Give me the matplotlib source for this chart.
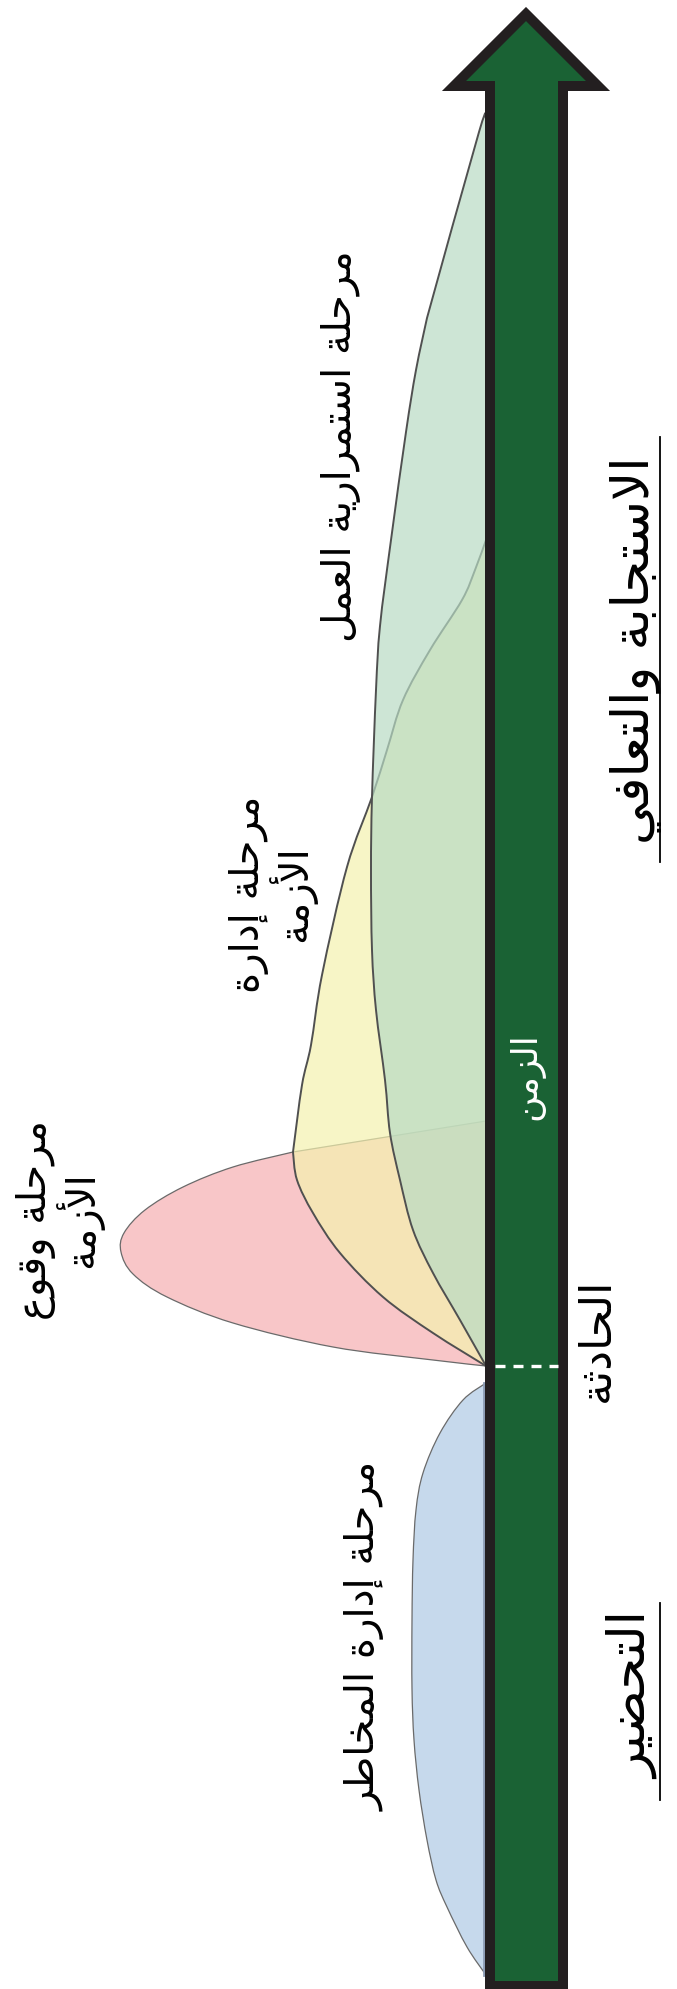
import matplotlib
matplotlib.use("Agg")
import numpy as np
import matplotlib.pyplot as plt
from matplotlib.patches import Polygon, PathPatch
from matplotlib.path import Path

plt.rcParams['font.family'] = ['DejaVu Sans']

# حدود المراحل (x, y بالبكسل، y نحو الأسفل)
continuity_x = [486, 479, 427, 416, 406, 391, 380, 376, 372, 371, 372, 376, 385, 390, 400, 413, 433, 460, 486]
continuity_y = [117, 132, 318, 370, 432, 540, 626, 690, 797, 870, 950, 1010, 1080, 1133, 1180, 1230, 1273, 1320, 1366]
continuity_corners = [0, 2, 18]

crisis_mgmt_x = [486, 475, 462, 430, 403, 387, 372, 347, 322, 311, 302, 293, 297, 313, 340, 383, 433, 486]
crisis_mgmt_y = [540, 570, 600, 650, 700, 750, 797, 867, 975, 1045, 1085, 1152, 1180, 1213, 1253, 1297, 1333, 1366]
crisis_mgmt_corners = [0, 11, 17]

incident_x = [486, 293, 233, 183, 145, 124, 121, 133, 167, 233, 333, 433, 486]
incident_y = [1121, 1152, 1167, 1187, 1210, 1233, 1252, 1274, 1297, 1323, 1347, 1360, 1366]
incident_corners = [0, 1, 12]

risk_x = [486, 463, 440, 423, 416, 413, 412, 412, 414, 419, 427, 436, 447, 467, 486]
risk_y = [1383, 1400, 1433, 1473, 1510, 1560, 1620, 1689, 1740, 1790, 1840, 1880, 1907, 1947, 1975]
risk_corners = [0, 14]

# سهم الزمن
arrow_x = [490, 490, 454, 526, 598, 563, 563]
arrow_y = [1986, 86, 86, 14, 86, 86, 1986]
incident_time = 1366

# النصوص
labels = ["مرحلة استمرارية العمل", "مرحلة إدارة\nالأزمة", "مرحلة وقوع\nالأزمة",
          "مرحلة إدارة المخاطر", "الحادثة"]
labels_pos = [(341, 446), (273, 894), (60, 1220), (366, 1636), (596, 1340)]
labels_size = [29, 29, 29, 29, 32]
time_label = "الزمن"
big_labels = ["الاستجابة والتعافي", "التحضير"]
big_pos = [(636, 650), (633, 1696)]
big_span = [(437, 862), (1603, 1800)]

# ---- تشكيل الحروف العربية (matplotlib لا يقوم بذلك) ----
FORMS = {
    'ا': (0xFE8D, 0xFE8E, None, None), 'أ': (0xFE83, 0xFE84, None, None),
    'إ': (0xFE87, 0xFE88, None, None), 'ب': (0xFE8F, 0xFE90, 0xFE91, 0xFE92),
    'ة': (0xFE93, 0xFE94, None, None), 'ت': (0xFE95, 0xFE96, 0xFE97, 0xFE98),
    'ث': (0xFE99, 0xFE9A, 0xFE9B, 0xFE9C), 'ج': (0xFE9D, 0xFE9E, 0xFE9F, 0xFEA0),
    'ح': (0xFEA1, 0xFEA2, 0xFEA3, 0xFEA4), 'خ': (0xFEA5, 0xFEA6, 0xFEA7, 0xFEA8),
    'د': (0xFEA9, 0xFEAA, None, None), 'ذ': (0xFEAB, 0xFEAC, None, None),
    'ر': (0xFEAD, 0xFEAE, None, None), 'ز': (0xFEAF, 0xFEB0, None, None),
    'س': (0xFEB1, 0xFEB2, 0xFEB3, 0xFEB4), 'ش': (0xFEB5, 0xFEB6, 0xFEB7, 0xFEB8),
    'ص': (0xFEB9, 0xFEBA, 0xFEBB, 0xFEBC), 'ض': (0xFEBD, 0xFEBE, 0xFEBF, 0xFEC0),
    'ط': (0xFEC1, 0xFEC2, 0xFEC3, 0xFEC4), 'ظ': (0xFEC5, 0xFEC6, 0xFEC7, 0xFEC8),
    'ع': (0xFEC9, 0xFECA, 0xFECB, 0xFECC), 'غ': (0xFECD, 0xFECE, 0xFECF, 0xFED0),
    'ف': (0xFED1, 0xFED2, 0xFED3, 0xFED4), 'ق': (0xFED5, 0xFED6, 0xFED7, 0xFED8),
    'ك': (0xFED9, 0xFEDA, 0xFEDB, 0xFEDC), 'ل': (0xFEDD, 0xFEDE, 0xFEDF, 0xFEE0),
    'م': (0xFEE1, 0xFEE2, 0xFEE3, 0xFEE4), 'ن': (0xFEE5, 0xFEE6, 0xFEE7, 0xFEE8),
    'ه': (0xFEE9, 0xFEEA, 0xFEEB, 0xFEEC), 'و': (0xFEED, 0xFEEE, None, None),
    'ي': (0xFEF1, 0xFEF2, 0xFEF3, 0xFEF4), 'ى': (0xFEEF, 0xFEF0, None, None),
}
LAM_ALEF = {'ا': (0xFEFB, 0xFEFC), 'أ': (0xFEF7, 0xFEF8), 'إ': (0xFEF9, 0xFEFA), 'آ': (0xFEF5, 0xFEF6)}


def shape_line(s):
    out = []
    i = 0
    while i < len(s):
        c = s[i]
        if c not in FORMS:
            out.append(c)
            i += 1
            continue
        prev = s[i - 1] if i > 0 else None
        link_prev = prev in FORMS and FORMS[prev][2] is not None
        if c == 'ل' and i + 1 < len(s) and s[i + 1] in LAM_ALEF:
            iso, fin = LAM_ALEF[s[i + 1]]
            out.append(chr(fin if link_prev else iso))
            i += 2
            continue
        nxt = s[i + 1] if i + 1 < len(s) else None
        link_next = FORMS[c][2] is not None and nxt in FORMS
        iso, fin, ini, med = FORMS[c]
        if link_prev and link_next:
            g = med
        elif link_prev:
            g = fin
        elif link_next:
            g = ini
        else:
            g = iso
        out.append(chr(g))
        i += 1
    return ''.join(reversed(out))


def ar(s):
    return '\n'.join(shape_line(line) for line in s.split('\n'))


def smooth_path(xs, ys, corners):
    # منحنيات بيزيه عبر النقاط (Catmull-Rom)، مع زوايا حادة عند corners
    pts = np.column_stack([xs, ys]).astype(float)
    verts = [pts[0]]
    codes = [Path.MOVETO]
    for a, b in zip(corners[:-1], corners[1:]):
        seg = pts[a:b + 1]
        n = len(seg)
        for i in range(n - 1):
            p0 = seg[i - 1] if i > 0 else seg[i]
            p1, p2 = seg[i], seg[i + 1]
            p3 = seg[i + 2] if i + 2 < n else seg[i + 1]
            verts += [p1 + (p2 - p0) / 6, p2 - (p3 - p1) / 6, p2]
            codes += [Path.CURVE4] * 3
    verts.append(pts[0])
    codes.append(Path.CLOSEPOLY)
    return Path(verts, codes)


fig = plt.figure(figsize=(6.7700001, 19.8900001), dpi=100)
ax = fig.add_axes([0, 0, 1, 1])
ax.set_xlim(0, 677)
ax.set_ylim(1989, 0)
ax.axis('off')

# المناطق: الأحمر تحت، ثم الأصفر ثم الأخضر بشفافية
ax.add_patch(PathPatch(smooth_path(incident_x, incident_y, incident_corners),
                       facecolor='#f8c6c8', edgecolor='#6a6a6a', lw=0.9, zorder=1))
ax.add_patch(PathPatch(smooth_path(crisis_mgmt_x, crisis_mgmt_y, crisis_mgmt_corners),
                       facecolor=(245/255, 242/255, 175/255, 0.7), edgecolor='#505050', lw=1.4, zorder=2))
ax.add_patch(PathPatch(smooth_path(continuity_x, continuity_y, continuity_corners),
                       facecolor=(184/255, 219/255, 196/255, 0.7), edgecolor='#505050', lw=1.4, zorder=3))
ax.add_patch(PathPatch(smooth_path(risk_x, risk_y, risk_corners),
                       facecolor='#c6d9ec', edgecolor='#6a6a6a', lw=0.9, zorder=3))
ax.plot([risk_x[0] - 2, risk_x[-1] - 2], [risk_y[0], risk_y[-1]], color='#8d9db5', lw=2, zorder=4)

# السهم
ax.add_patch(Polygon(list(zip(arrow_x, arrow_y)), closed=True, facecolor='#1a6234',
                     edgecolor='#231f20', lw=7.2, joinstyle='miter', zorder=5))
line, = ax.plot([arrow_x[0] + 5, arrow_x[-1] - 5], [incident_time, incident_time],
                color='white', lw=2.4, zorder=6)
line.set_dashes((3, 2.4))

for txt, (x, y), fs in zip(labels, labels_pos, labels_size):
    ax.text(x, y, ar(txt), rotation=90, ha='center', va='center', rotation_mode='anchor',
            multialignment='center', fontsize=fs, linespacing=0.95, color='black', zorder=7)

ax.text(526, 1076, ar(time_label), rotation=90, ha='center', va='center',
        rotation_mode='anchor', fontsize=26, color='white', zorder=7)

for txt, (x, y), (y0, y1) in zip(big_labels, big_pos, big_span):
    ax.text(x, y, ar(txt), rotation=90, ha='center', va='center', rotation_mode='anchor',
            fontsize=37, color='black', zorder=7)
    ax.plot([660, 660], [y0, y1], color='black', lw=1.3, zorder=7)

fig.savefig('out.png', dpi=100)
